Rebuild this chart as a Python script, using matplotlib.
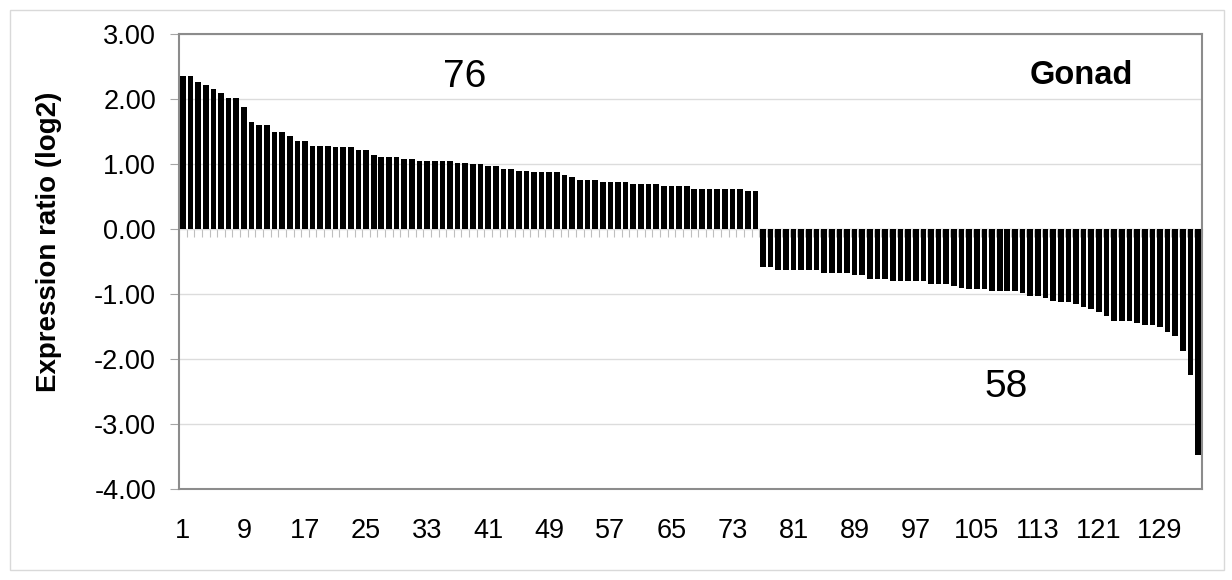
import matplotlib.pyplot as plt
import numpy as np
from matplotlib.patches import Rectangle

plt.rcParams['font.family'] = ['Liberation Sans', 'DejaVu Sans']

# 76 up-regulated, 58 down-regulated genes (log2 ratio)
up_values = [2.36, 2.36, 2.26, 2.22, 2.15, 2.09, 2.02, 2.02, 1.87, 1.64,
             1.60, 1.60, 1.50, 1.50, 1.43, 1.36, 1.36, 1.28, 1.28, 1.28,
             1.26, 1.26, 1.26, 1.22, 1.22, 1.14, 1.11, 1.11, 1.11, 1.08,
             1.08, 1.04, 1.04, 1.04, 1.04, 1.04, 1.01, 1.01, 1.00, 1.00,
             0.97, 0.97, 0.93, 0.93, 0.90, 0.90, 0.87, 0.87, 0.87, 0.87,
             0.83, 0.80, 0.76, 0.76, 0.76, 0.73, 0.73, 0.73, 0.73, 0.69,
             0.69, 0.69, 0.69, 0.66, 0.66, 0.66, 0.66, 0.62, 0.62, 0.62,
             0.62, 0.62, 0.62, 0.62, 0.59, 0.59]
down_values = [-0.59, -0.59, -0.63, -0.63, -0.63, -0.63, -0.63, -0.63, -0.67, -0.67,
               -0.67, -0.67, -0.70, -0.70, -0.77, -0.77, -0.77, -0.80, -0.80, -0.80,
               -0.80, -0.80, -0.84, -0.84, -0.84, -0.88, -0.90, -0.92, -0.92, -0.92,
               -0.96, -0.96, -0.96, -0.96, -0.99, -1.03, -1.03, -1.06, -1.10, -1.13,
               -1.13, -1.16, -1.20, -1.23, -1.27, -1.34, -1.41, -1.41, -1.41, -1.44,
               -1.47, -1.47, -1.51, -1.58, -1.65, -1.88, -2.25, -3.47]
values = up_values + down_values
genes = np.arange(1, len(values) + 1)
xtick_labels = genes[::8]
yticks = [-4, -3, -2, -1, 0, 1, 2, 3]

fig = plt.figure(figsize=(12.32, 5.8), dpi=100)
ax = fig.add_axes([179/1232, 1 - 489/580, 1023/1232, 455/580])

ax.bar(genes, values, width=0.74, color='black', zorder=3)

ax.set_xlim(0.5, len(values) + 0.5)
ax.set_ylim(-4, 3)
ax.set_yticks(yticks)
ax.set_yticklabels(['%.2f' % v for v in yticks])
ax.set_xticks(xtick_labels)
ax.set_xticklabels([str(v) for v in xtick_labels])
ax.tick_params(axis='x', length=0, pad=21, labelsize=19.5)
ax.tick_params(axis='y', direction='out', length=6.5, color='#a6a6a6',
               pad=10, labelsize=19.5)
ax.yaxis.grid(True, color='#dcdcdc', lw=1)
ax.set_axisbelow(True)
for sp in ax.spines.values():
    sp.set_color('#8c8c8c')
    sp.set_linewidth(1.5)

# category axis crossing at zero, with tick marks between the bars
zero_axis = ax.secondary_xaxis(4/7)
zero_axis.set_xticks(np.arange(0.5, len(values) + 1, 1))
zero_axis.xaxis.set_ticks_position('bottom')
zero_axis.tick_params(axis='x', direction='out', length=6, color='#bfbfbf',
                      labelbottom=False, labeltop=False)
for sp in zero_axis.spines.values():
    sp.set_color('#bfbfbf')

ax.set_ylabel('Expression ratio (log2)', fontsize=20, fontweight='bold')
ax.yaxis.set_label_coords(-0.1144, 0.543)

ax.text(0.2796, 0.905, str(len(up_values)), transform=ax.transAxes,
        fontsize=28, ha='center', va='center')
ax.text(0.809, 0.224, str(len(down_values)), transform=ax.transAxes,
        fontsize=28, ha='center', va='center')
ax.text(0.882, 0.908, 'Gonad', transform=ax.transAxes,
        fontsize=23.5, fontweight='bold', ha='center', va='center')

fig.add_artist(Rectangle((10/1232, 10/580), 1214/1232, 560/580,
                         transform=fig.transFigure, fill=False,
                         ec='#d9d9d9', lw=1))

plt.savefig('out.png', dpi=100)
